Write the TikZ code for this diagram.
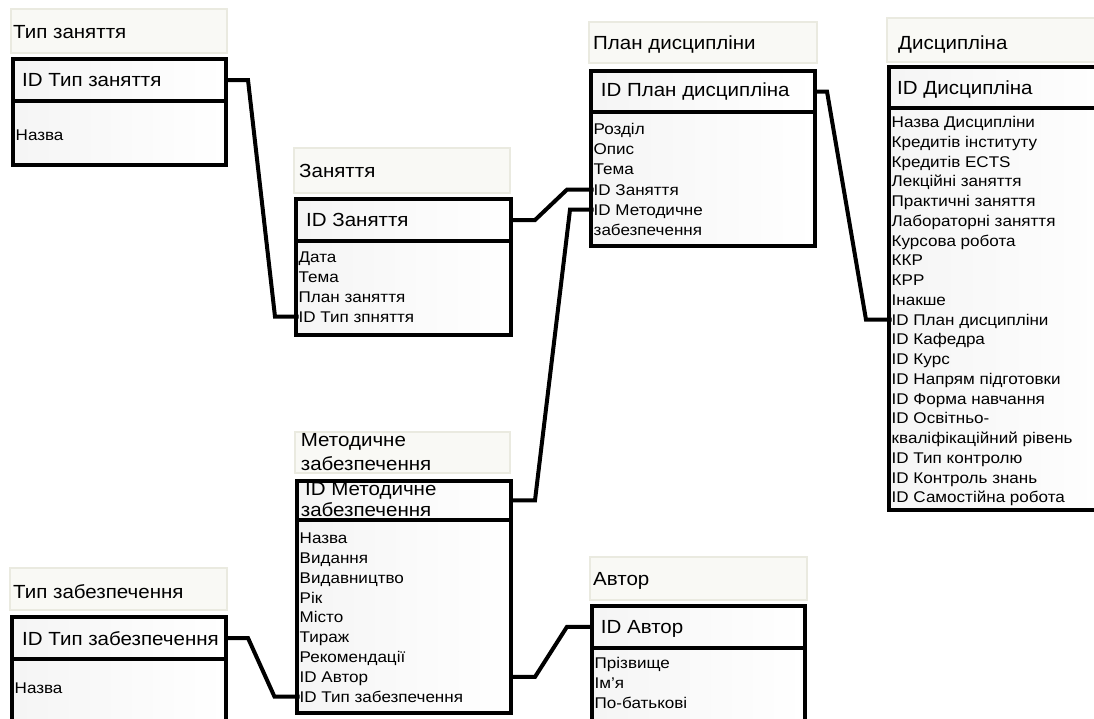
\documentclass[tikz,border=0pt]{standalone}
\usepackage{fontspec}
\newfontfamily\dfont{Liberation Sans}[FakeStretch=1.08]
\newfontfamily\afont{Liberation Sans}[FakeStretch=1.1]
\definecolor{ttlfill}{RGB}{249,249,245}
\definecolor{ttlline}{RGB}{234,234,224}
\begin{document}
\begin{tikzpicture}[x=1pt,y=-1pt,
  titlebox/.style={draw=ttlline, line width=1.5pt, fill=ttlfill, anchor=north west, inner sep=0pt, outer sep=0pt},
  mainbox/.style={draw=black, line width=4pt, left color=black!4, right color=white, anchor=north west, inner sep=0pt, outer sep=0pt},
  hrow/.style={anchor=north west, inner sep=0pt, outer sep=0pt},
  sepline/.style={line width=4pt},
  ttl/.style={anchor=west, inner sep=0pt, font=\dfont\fontsize{19}{22}\selectfont, text height=14pt, text depth=0.7pt},
  attr/.style={anchor=west, inner sep=0pt, font=\afont\fontsize{15.5}{18}\selectfont, text height=11.3pt, text depth=0.5pt},
  link/.style={line width=4pt, draw=black}]
\clip (0,0) rectangle (1094,718);
\fill[white] (0,0) rectangle (1094,718);

% ---------- Тип заняття ----------
\node[titlebox, minimum width=216pt, minimum height=44pt] (t1t) at (11,9) {};
\node[ttl] (t1n) at (13,31.5) {Тип заняття};
\node[mainbox, minimum width=212.5pt, minimum height=106pt] (t1b) at (13,59) {};
\node[hrow, minimum width=212.5pt, minimum height=42pt] (t1h) at (13,59) {};
\draw[sepline] (t1h.south west) -- (t1h.south east);
\node[ttl] (t1k) at (22,80) {ID Тип заняття};
\node[attr] (t1a1) at (15.5,135) {Назва};

% ---------- Заняття ----------
\node[titlebox, minimum width=216pt, minimum height=45pt] (t2t) at (294,148) {};
\node[ttl] (t2n) at (299,171) {Заняття};
\node[mainbox, minimum width=214.5pt, minimum height=135.5pt] (t2b) at (296,199) {};
\node[hrow, minimum width=214.5pt, minimum height=42pt] (t2h) at (296,199) {};
\draw[sepline] (t2h.south west) -- (t2h.south east);
\node[ttl] (t2k) at (306,220) {ID Заняття};
\foreach \t [count=\i] in {Дата, Тема, План заняття, ID Тип зпняття}
  \node[attr] (t2a\i) at (298.5,{257.3+(\i-1)*19.8}) {\t};

% ---------- План дисципліни ----------
\node[titlebox, minimum width=228pt, minimum height=41pt] (t3t) at (589,22) {};
\node[ttl] (t3n) at (593,43) {План дисципліни};
\node[mainbox, minimum width=224pt, minimum height=175pt] (t3b) at (591,71) {};
\node[hrow, minimum width=224pt, minimum height=41pt] (t3h) at (591,71) {};
\draw[sepline] (t3h.south west) -- (t3h.south east);
\node[ttl] (t3k) at (600.7,90) {ID План дисципліна};
\foreach \t [count=\i] in {Розділ, Опис, Тема, ID Заняття, ID Методичне, забезпечення}
  \node[attr] (t3a\i) at (593.5,{129.3+(\i-1)*20.1}) {\t};

% ---------- Дисципліна ----------
\node[titlebox, minimum width=240pt, minimum height=44pt] (t4t) at (887,18) {};
\node[ttl] (t4n) at (898,43) {Дисципліна};
\node[mainbox, minimum width=231pt, minimum height=443pt] (t4b) at (889,67) {};
\node[hrow, minimum width=231pt, minimum height=41pt] (t4h) at (889,67) {};
\draw[sepline] (t4h.south west) -- (t4h.south east);
\node[ttl] (t4k) at (897,88.3) {ID Дисципліна};
\foreach \t [count=\i] in {Назва Дисципліни, Кредитів інституту, Кредитів ECTS, Лекційні заняття, Практичні заняття, Лабораторні заняття, Курсова робота, ККР, КРР, Інакше, ID План дисципліни, ID Кафедра, ID Курс, ID Напрям підготовки, ID Форма навчання, ID Освітньо-, кваліфікаційний рівень, ID Тип контролю, ID Контроль знань, ID Самостійна робота}
  \node[attr] (t4a\i) at (891.5,{122.3+(\i-1)*19.74}) {\t};

% ---------- Методичне забезпечення ----------
\node[titlebox, minimum width=215pt, minimum height=41pt] (t5t) at (295,432) {};
\node[ttl] (t5n1) at (300.7,440) {Методичне};
\node[ttl] (t5n2) at (300.7,463.4) {забезпечення};
\node[mainbox, minimum width=213.5pt, minimum height=232.5pt] (t5b) at (297,480.5) {};
\node[hrow, minimum width=213.5pt, minimum height=39.5pt] (t5h) at (297,480.5) {};
\draw[sepline] (t5h.south west) -- (t5h.south east);
\node[ttl] (t5k1) at (305,488.4) {ID Методичне};
\node[ttl] (t5k2) at (300.7,510) {забезпечення};
\foreach \t [count=\i] in {Назва, Видання, Видавництво, Рік, Місто, Тираж, Рекомендації, ID Автор, ID Тип забезпечення}
  \node[attr] (t5a\i) at (299.5,{538.3+(\i-1)*19.8}) {\t};

% ---------- Тип забезпечення ----------
\node[titlebox, minimum width=217pt, minimum height=42pt] (t6t) at (10,568) {};
\node[ttl] (t6n) at (13,591.7) {Тип забезпечення};
\node[mainbox, minimum width=213.5pt, minimum height=143pt] (t6b) at (12,617) {};
\node[hrow, minimum width=213.5pt, minimum height=42pt] (t6h) at (12,617) {};
\draw[sepline] (t6h.south west) -- (t6h.south east);
\node[ttl] (t6k) at (22,639) {ID Тип забезпечення};
\node[attr] (t6a1) at (14.5,688.5) {Назва};

% ---------- Автор ----------
\node[titlebox, minimum width=217pt, minimum height=43pt] (t7t) at (590,557) {};
\node[ttl] (t7n) at (593,579) {Автор};
\node[mainbox, minimum width=212.5pt, minimum height=154.5pt] (t7b) at (592,605.5) {};
\node[hrow, minimum width=212.5pt, minimum height=42.5pt] (t7h) at (592,605.5) {};
\draw[sepline] (t7h.south west) -- (t7h.south east);
\node[ttl] (t7k) at (600.7,627) {ID Автор};
\foreach \t [count=\i] in {Прізвище, Ім’я, По-батькові}
  \node[attr] (t7a\i) at (594.5,{663+(\i-1)*20}) {\t};

% ---------- connectors ----------
\draw[link] (t1h.east) -- ++(22.5,0) -- ([xshift=-23.5pt]t2a4.west) -- (t2a4.west);
\draw[link] (t2h.east) -- ++(24.5,0) -- ([xshift=-26.5pt]t3a4.west) -- (t3a4.west);
\draw[link] (t5h.east) -- ++(24.5,0) -- ([xshift=-23.5pt]t3a5.west) -- (t3a5.west);
\draw[link] (t3h.east) -- ++(12,0) -- ([xshift=-25.5pt]t4a11.west) -- (t4a11.west);
\draw[link] (t5a8.west -| t5h.east) -- ++(24.5,0) -- ([xshift=-25pt]t7h.west) -- (t7h.west);
\draw[link] (t6h.east) -- ++(22.5,0) -- ([xshift=-25pt]t5a9.west) -- (t5a9.west);
\end{tikzpicture}
\end{document}
